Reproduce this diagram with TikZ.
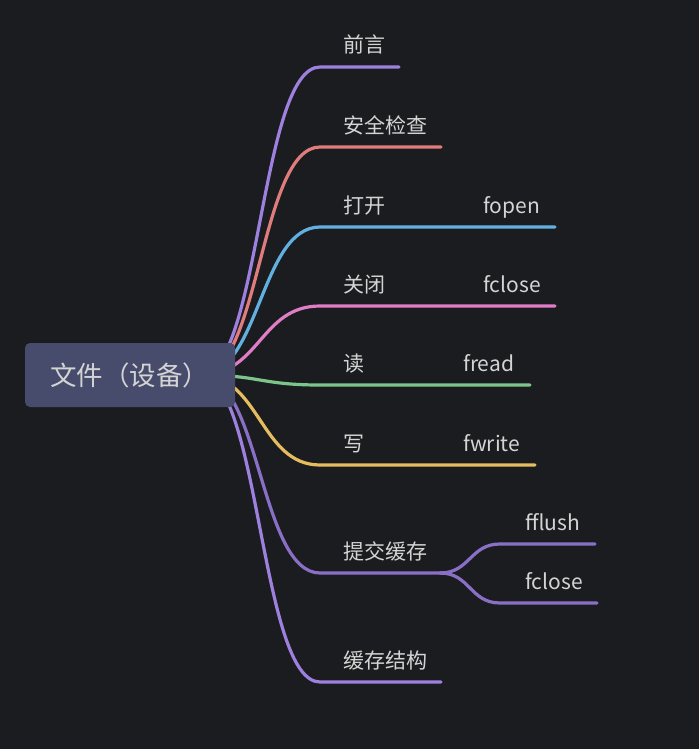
\documentclass[tikz,border=0pt]{standalone}
\usepackage{fontspec}
\setmainfont{Noto Sans CJK SC}
\definecolor{bg}{HTML}{1B1C1F}
\definecolor{rootfill}{HTML}{484C6C}
\definecolor{txt}{HTML}{D4D4D4}
\definecolor{cpurple}{HTML}{9E80DE}
\definecolor{cred}{HTML}{E07C7C}
\definecolor{cblue}{HTML}{62B0E2}
\definecolor{cpink}{HTML}{DF7DC7}
\definecolor{cgreen}{HTML}{7CC68B}
\definecolor{cyellow}{HTML}{E6BD5E}
\definecolor{cviolet}{HTML}{8A6FC6}
\tikzset{
  branch/.style={line width=3.2pt, line cap=round},
  topic/.style={anchor=base west, inner sep=0pt, text=txt, font=\fontsize{21}{25}\selectfont},
  rootbox/.style={fill=rootfill, rounded corners=5pt, text=txt, font=\fontsize{26.5}{31}\selectfont,
    minimum height=64pt, inner xsep=25pt, text width=160pt, align=left},
}

\begin{document}
\begin{tikzpicture}[x=1pt,y=-1pt]
\fill[bg] (0,0) rectangle (699,749);
\useasboundingbox (0,0) rectangle (699,749);
\coordinate (hub) at (200,375);
\coordinate (intro) at (320,67);   \coordinate (intro end) at (399,67);
\coordinate (check) at (320,147);  \coordinate (check end) at (441,147);
\coordinate (open) at (320,227);   \coordinate (open end) at (555,227);
\coordinate (close) at (320,306);  \coordinate (close end) at (555,306);
\coordinate (read) at (320,385);   \coordinate (read end) at (530,385);
\coordinate (write) at (320,465);  \coordinate (write end) at (535,465);
\coordinate (flush) at (320,573);  \coordinate (flush end) at (445,573);
\coordinate (layout) at (320,682); \coordinate (layout end) at (441,682);
\coordinate (sub) at (440,573);
\coordinate (ff) at (500,544);     \coordinate (ff end) at (595,544);
\coordinate (fc) at (500,603);     \coordinate (fc end) at (597,603);

\draw[branch, cpurple] (hub) .. controls (260,375) and (260,67) .. (intro) -- (intro end);
\draw[branch, cred] (hub) .. controls (260,375) and (260,147) .. (check) -- (check end);
\draw[branch, cblue] (hub) .. controls (260,375) and (260,227) .. (open) -- (open end);
\draw[branch, cpink] (hub) .. controls (260,375) and (260,306) .. (close) -- (close end);
\draw[branch, cgreen] (hub) .. controls (260,375) and (260,385) .. (read) -- (read end);
\draw[branch, cyellow] (hub) .. controls (260,375) and (260,465) .. (write) -- (write end);
\draw[branch, cviolet] (hub) .. controls (260,375) and (260,573) .. (flush) -- (flush end);
\draw[branch, cpurple] (hub) .. controls (260,375) and (260,682) .. (layout) -- (layout end);
\draw[branch, cviolet] (sub) .. controls (470,573) and (470,544) .. (ff) -- (ff end);
\draw[branch, cviolet] (sub) .. controls (470,573) and (470,603) .. (fc) -- (fc end);

\node[topic] (intro label) at (343,53) {前言};
\node[topic] (check label) at (343,133) {安全检查};
\node[topic] (open label) at (343,213) {打开};
\node[topic] (fopen label) at (483,213) {fopen};
\node[topic] (close label) at (343,292) {关闭};
\node[topic] (fclose label) at (483,292) {fclose};
\node[topic] (read label) at (343,371) {读};
\node[topic] (fread label) at (463,371) {fread};
\node[topic] (write label) at (343,451) {写};
\node[topic] (fwrite label) at (463,451) {fwrite};
\node[topic] (flush label) at (343,559) {提交缓存};
\node[topic] (fflush label) at (525,530) {fflush};
\node[topic] (fclose2 label) at (525,589) {fclose};
\node[topic] (layout label) at (343,668) {缓存结构};

\node[rootbox] (root) at (130,375) {文件（设备）};
\end{tikzpicture}
\end{document}
